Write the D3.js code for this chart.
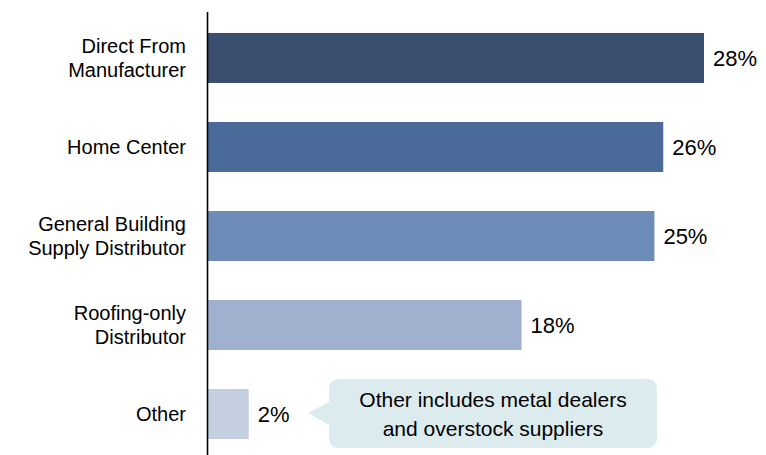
<!DOCTYPE html>
<html>
<head>
<meta charset="utf-8">
<script src="https://cdn.jsdelivr.net/npm/d3@7"></script>
<style>
  body { margin: 0; background: #fff; }
  text { font-family: "Liberation Sans", Arial, sans-serif; fill: #000; }
</style>
</head>
<body>
<div id="chart"></div>
<script>
// chart data
var categories = ["Direct From|Manufacturer", "Home Center", "General Building|Supply Distributor", "Roofing-only|Distributor", "Other"];
var shares = [28.0, 25.7, 25.2, 17.7, 2.3];
var valueLabels = ["28%", "26%", "25%", "18%", "2%"];
var barColors = ["#3a4f6e", "#4a6b9a", "#6d8cb8", "#9fb1cf", "#c4cfe0"];
var noteLines = ["Other includes metal dealers", "and overstock suppliers"];

var width = 766, height = 455;

var svg = d3.select("#chart").append("svg")
  .attr("width", width)
  .attr("height", height);

var x = d3.scaleLinear()
  .domain([0, 28])
  .range([208, 704]);

var y = d3.scaleBand()
  .domain(categories)
  .range([11.6, 460.4])
  .paddingInner(0.438)
  .paddingOuter(0.24);

// bars
svg.selectAll("rect.bar")
  .data(categories)
  .enter()
  .append("rect")
    .attr("class", "bar")
    .attr("x", x(0))
    .attr("y", function(d) { return y(d); })
    .attr("width", function(d, i) { return x(shares[i]) - x(0); })
    .attr("height", y.bandwidth())
    .attr("fill", function(d, i) { return barColors[i]; });

// value labels
svg.selectAll("text.val")
  .data(categories)
  .enter()
  .append("text")
    .attr("class", "val")
    .attr("x", function(d, i) { return x(shares[i]) + 9; })
    .attr("y", function(d) { return y(d) + y.bandwidth() / 2; })
    .attr("dy", "0.37em")
    .attr("font-size", "22px")
    .text(function(d, i) { return valueLabels[i]; });

// category labels (split on |)
var catLabels = svg.selectAll("text.cat")
  .data(categories)
  .enter()
  .append("text")
    .attr("class", "cat")
    .attr("text-anchor", "end")
    .attr("font-size", "20px")
    .attr("y", function(d) { return y(d) + y.bandwidth() / 2; });

catLabels.each(function(d) {
  var lines = d.split("|");
  var t = d3.select(this);
  lines.forEach(function(line, k) {
    t.append("tspan")
      .attr("x", 186)
      .attr("dy", k === 0 ? (0.35 - (lines.length - 1) * 0.62) + "em" : "1.24em")
      .text(line);
  });
});

// axis line
var yAxis = d3.axisLeft(y).tickSize(0).tickFormat("");
svg.append("g")
  .attr("class", "y-axis")
  .attr("transform", "translate(207,0)")
  .call(yAxis)
  .select(".domain")
    .attr("stroke", "#000")
    .attr("stroke-width", 1.6);

// callout for "Other"
var cy = y("Other") + y.bandwidth() / 2;
var bx0 = 329, bx1 = 657, by0 = 379, by1 = 448, r = 9;
var path = d3.path();
path.moveTo(bx0 + r, by0);
path.lineTo(bx1 - r, by0);
path.arcTo(bx1, by0, bx1, by0 + r, r);
path.lineTo(bx1, by1 - r);
path.arcTo(bx1, by1, bx1 - r, by1, r);
path.lineTo(bx0 + r, by1);
path.arcTo(bx0, by1, bx0, by1 - r, r);
path.lineTo(bx0, cy + 11);
path.lineTo(308, cy - 1);
path.lineTo(bx0, cy - 12);
path.lineTo(bx0, by0 + r);
path.arcTo(bx0, by0, bx0 + r, by0, r);
path.closePath();

svg.append("path")
  .attr("d", path.toString())
  .attr("fill", "#dcebee");

svg.append("text")
  .attr("text-anchor", "middle")
  .attr("font-size", "21px")
  .selectAll("tspan")
  .data(noteLines)
  .enter()
  .append("tspan")
    .attr("x", (bx0 + bx1) / 2)
    .attr("y", function(d, i) { return 407 + i * 29; })
    .text(function(d) { return d; });
</script>
</body>
</html>
